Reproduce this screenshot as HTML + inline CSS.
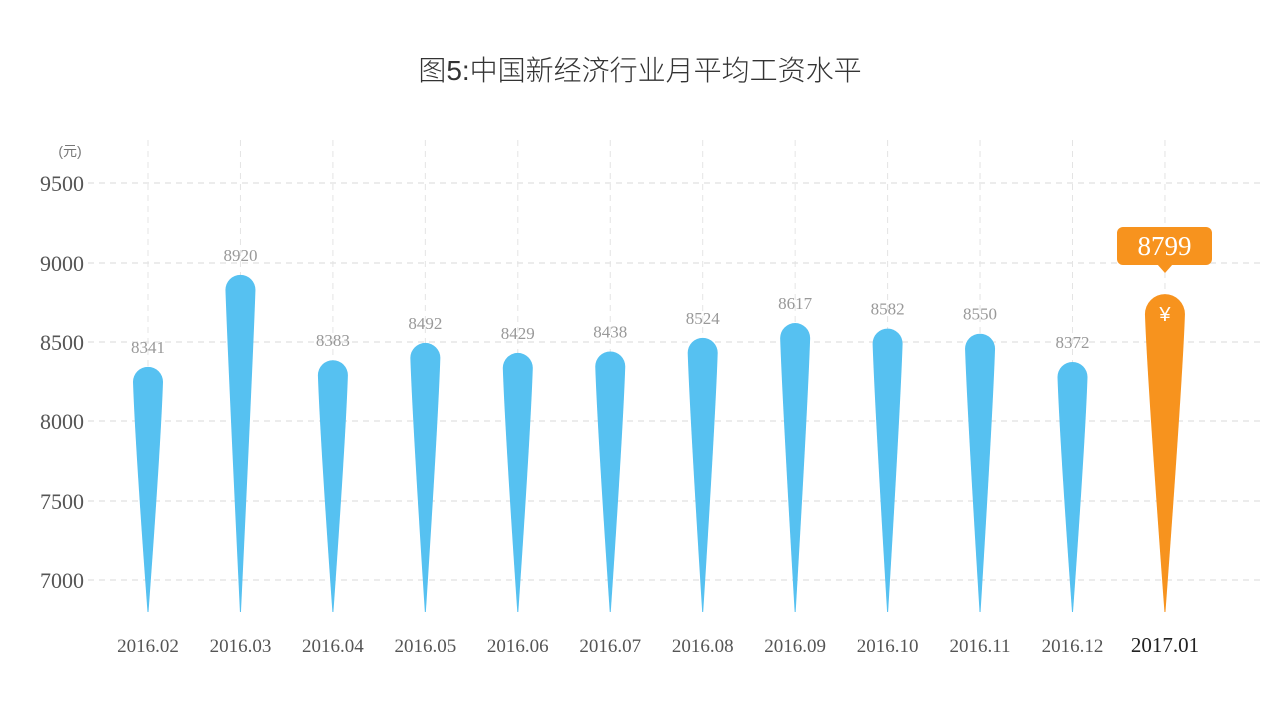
<!DOCTYPE html>
<html><head><meta charset="utf-8"><style>
body{margin:0;background:#fff}
svg text{font-family:"Liberation Serif",serif}
</style></head><body>
<svg width="1280" height="719" xmlns="http://www.w3.org/2000/svg">
<text x="640" y="80" text-anchor="middle" style="font-family:'Liberation Sans','Noto Sans CJK SC',sans-serif;font-weight:300" font-size="28" fill="#333">图5:中国新经济行业月平均工资水平</text>
<text x="70" y="156" text-anchor="middle" style="font-family:'Liberation Sans','Noto Sans CJK SC',sans-serif" font-size="14" fill="#777">(元)</text>
<g stroke="#d8d8d8" stroke-dasharray="6,5" stroke-width="1">
<line x1="88" x2="1260" y1="183" y2="183"/><line x1="88" x2="1260" y1="263" y2="263"/>
<line x1="88" x2="1260" y1="342" y2="342"/><line x1="88" x2="1260" y1="421" y2="421"/>
<line x1="88" x2="1260" y1="501" y2="501"/><line x1="88" x2="1260" y1="580" y2="580"/>
</g>
<g font-size="22" fill="#555" text-anchor="end">
<text x="84" y="191">9500</text><text x="84" y="271">9000</text><text x="84" y="350">8500</text>
<text x="84" y="429">8000</text><text x="84" y="509">7500</text><text x="84" y="588">7000</text>
</g>
<g id="c"></g>
<rect x="1117" y="227" width="95" height="38" rx="6" fill="#f7931e"/>
<path d="M1157 264 L1165 273 L1173 264Z" fill="#f7931e"/>
<text x="1164.5" y="255" text-anchor="middle" font-size="27" fill="#fff">8799</text>
</svg>
<script>
var v=[8341,8920,8383,8492,8429,8438,8524,8617,8582,8550,8372,8799];
var l=["2016.02","2016.03","2016.04","2016.05","2016.06","2016.07","2016.08","2016.09","2016.10","2016.11","2016.12","2017.01"];
var s="";
for(var i=0;i<12;i++){var x=148+i*92.45,t=580-(v[i]-7000)*0.1589,o=i==11,r=o?20:15,c=o?"#f7931e":"#56c1f1";
s+='<line x1="'+x+'" x2="'+x+'" y1="140" y2="612" stroke="#e4e4e4" stroke-dasharray="6,5"/>';
s+='<path d="M'+(x-r)+' '+(t+r)+' A'+r+' '+r+' 0 0 1 '+(x+r)+' '+(t+r)+' Q'+(x+r-2)+' '+(t+r+60)+' '+(x+0.5)+' 612 L'+(x-0.5)+' 612 Q'+(x-r+2)+' '+(t+r+60)+' '+(x-r)+' '+(t+r)+'Z" fill="'+c+'"/>';
if(!o)s+='<text x="'+x+'" y="'+(t-14)+'" text-anchor="middle" font-size="17" fill="#999">'+v[i]+'</text>';
else s+='<text x="'+x+'" y="'+(t+27)+'" text-anchor="middle" font-size="20" fill="#fff" style="font-family:\'Liberation Sans\',sans-serif">¥</text>';
s+='<text x="'+x+'" y="652" text-anchor="middle" font-size="'+(o?21:19)+'" fill="'+(o?"#222":"#555")+'">'+l[i]+'</text>';}
document.getElementById("c").innerHTML=s;
</script>
</body></html>
